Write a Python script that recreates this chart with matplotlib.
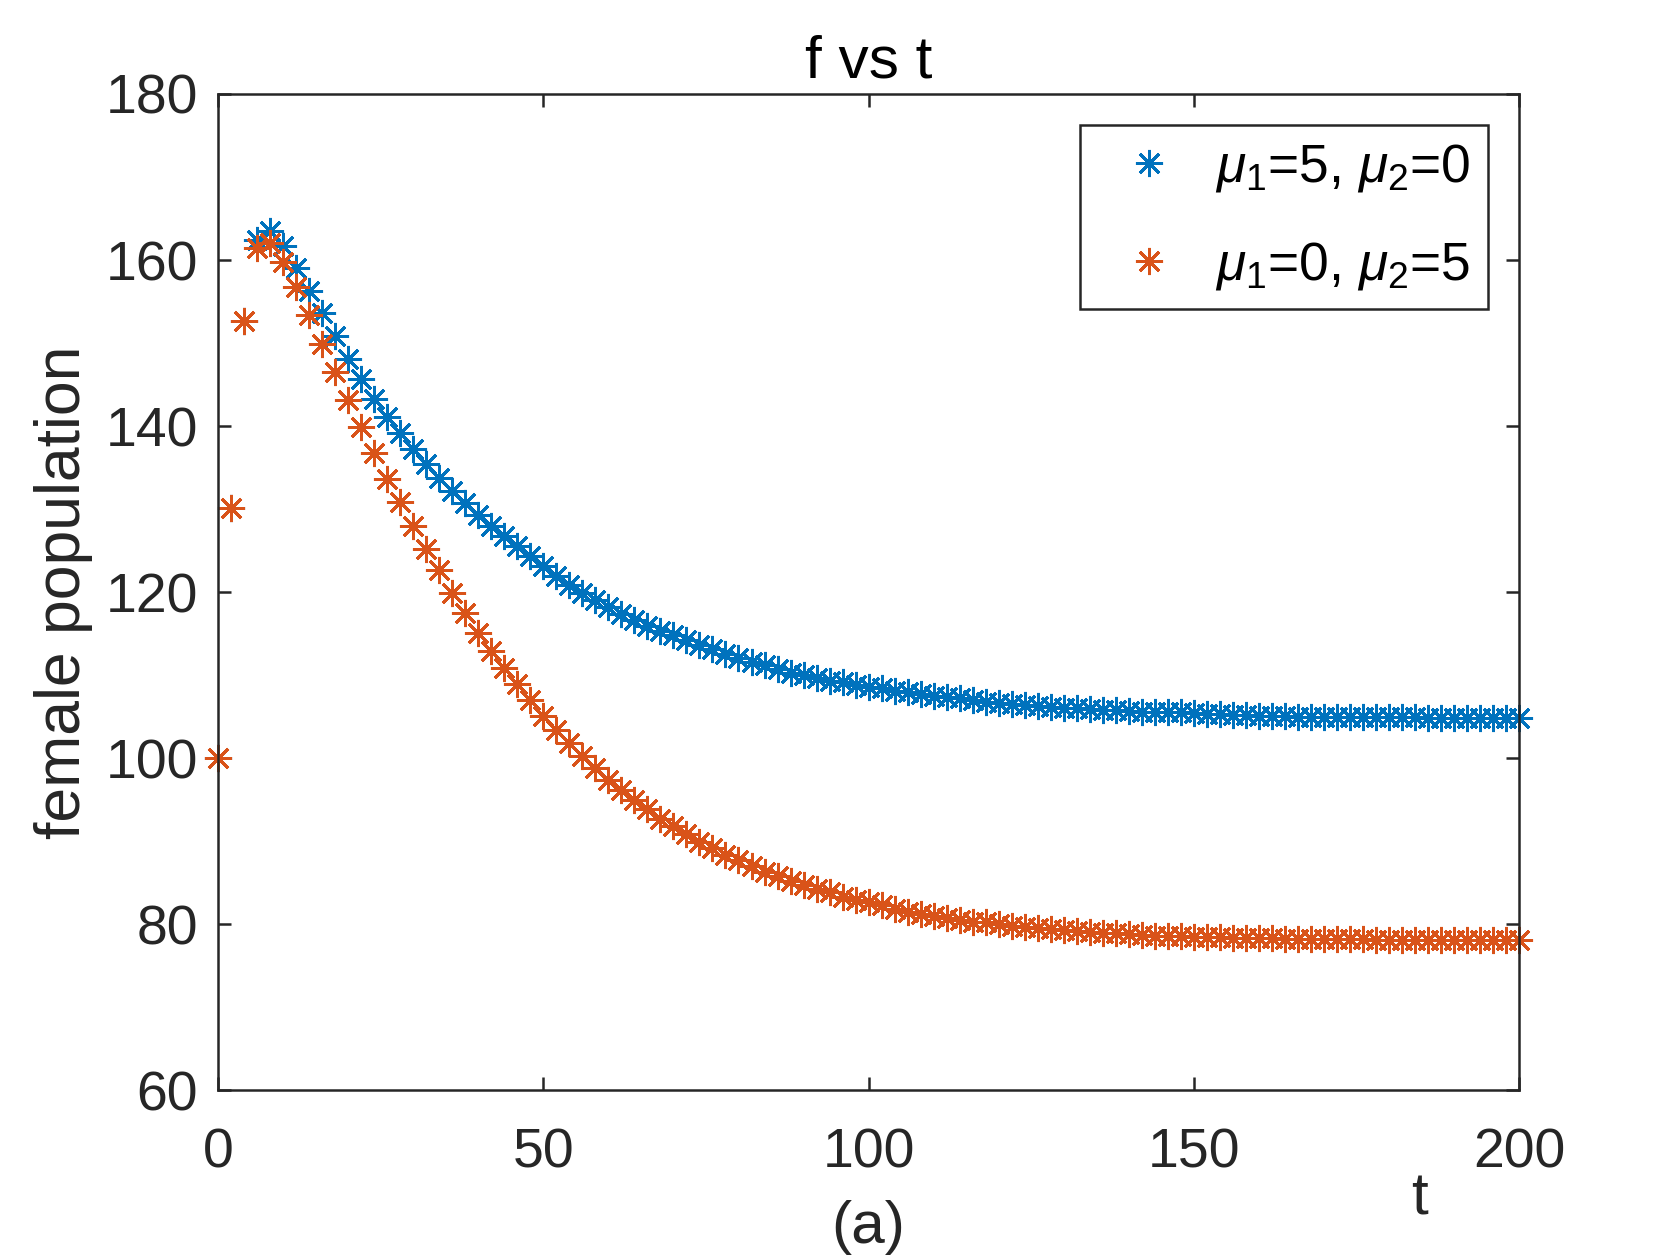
import numpy as np
import matplotlib
matplotlib.use("Agg")
import matplotlib.pyplot as plt

plt.rcParams['font.family'] = ['Liberation Sans', 'DejaVu Sans']
plt.rcParams['mathtext.fontset'] = 'custom'
plt.rcParams['mathtext.rm'] = 'Liberation Sans'
plt.rcParams['mathtext.it'] = 'Liberation Sans:italic'

# time samples (every 2 units)
t = np.arange(0, 201, 2)

# mu1=5, mu2=0
f_mu1 = [100.0, 130.1, 152.6, 162.4, 163.5, 161.7, 159.0, 156.3, 153.6, 150.8,
         148.1, 145.7, 143.3, 141.1, 139.1, 137.2, 135.4, 133.7, 132.2, 130.7,
         129.3, 127.9, 126.7, 125.5, 124.3, 123.1, 121.9, 120.8, 119.9, 119.0,
         118.2, 117.3, 116.6, 115.9, 115.3, 114.8, 114.2, 113.6, 113.1, 112.5,
         112.1, 111.6, 111.2, 110.7, 110.3, 110.0, 109.6, 109.3, 109.1, 108.8,
         108.6, 108.4, 108.1, 107.9, 107.7, 107.5, 107.3, 107.2, 107.0, 106.8,
         106.6, 106.5, 106.4, 106.3, 106.1, 106.0, 106.0, 105.9, 105.8, 105.8,
         105.7, 105.6, 105.6, 105.5, 105.5, 105.4, 105.3, 105.3, 105.2, 105.2,
         105.1, 105.1, 105.1, 105.0, 105.0, 105.0, 105.0, 104.9, 104.9, 104.9,
         104.9, 104.9, 104.9, 104.8, 104.8, 104.8, 104.8, 104.8, 104.8, 104.8,
         104.8]

# mu1=0, mu2=5
f_mu2 = [100.0, 130.1, 152.6, 161.4, 162.0, 159.8, 156.7, 153.4, 149.9, 146.5,
         143.1, 139.9, 136.8, 133.6, 130.8, 127.9, 125.2, 122.6, 119.9, 117.5,
         115.1, 112.9, 110.9, 108.9, 107.0, 105.1, 103.4, 101.8, 100.2, 98.8,
         97.4, 96.1, 94.9, 93.8, 92.7, 91.8, 90.8, 89.9, 89.1, 88.3,
         87.7, 87.0, 86.3, 85.8, 85.2, 84.7, 84.2, 83.8, 83.3, 82.9,
         82.6, 82.3, 81.8, 81.5, 81.2, 81.0, 80.7, 80.5, 80.3, 80.2,
         80.0, 79.8, 79.7, 79.55, 79.4, 79.3, 79.2, 79.05, 78.9, 78.9,
         78.8, 78.7, 78.6, 78.6, 78.5, 78.45, 78.4, 78.4, 78.35, 78.3,
         78.3, 78.3, 78.25, 78.2, 78.2, 78.2, 78.2, 78.15, 78.15, 78.1,
         78.1, 78.1, 78.1, 78.1, 78.1, 78.1, 78.1, 78.1, 78.1, 78.1,
         78.1]

labels = [r'$\mu_1$=5, $\mu_2$=0', r'$\mu_1$=0, $\mu_2$=5']
colors = ['#0072BD', '#D95319']

fig = plt.figure(figsize=(5.6, 4.2), dpi=300)
ax = fig.add_axes([0.1299, 0.1349, 0.7742, 0.7905])

star = (8, 2, 0)
ax.plot(t, f_mu1, linestyle='none', marker=star, markersize=6.5,
        markeredgewidth=0.7, color=colors[0], label=labels[0], clip_on=False)
ax.plot(t, f_mu2, linestyle='none', marker=star, markersize=6.5,
        markeredgewidth=0.7, color=colors[1], label=labels[1], clip_on=False)

ax.set_xlim(0, 200)
ax.set_ylim(60, 180)
ax.set_xticks([0, 50, 100, 150, 200])
ax.set_yticks([60, 80, 100, 120, 140, 160, 180])

axcol = '#262626'
for sp in ax.spines.values():
    sp.set_color(axcol)
    sp.set_linewidth(0.6)
ax.tick_params(axis='both', which='both', direction='in', top=True, right=True,
               length=3.2, width=0.6, color=axcol, labelcolor=axcol, labelsize=13.3)
ax.tick_params(axis='x', pad=9)
ax.tick_params(axis='y', pad=4.8)

ax.set_title('f vs t', fontsize=14.5, pad=4)
ax.set_ylabel('female population', fontsize=15, color=axcol)
ax.yaxis.set_label_coords(-0.096, 0.5)
ax.set_xlabel('(a)', fontsize=14.5, color=axcol, labelpad=5)
fig.text(1420 / 1680, 1 - 1199 / 1260, 't', fontsize=14.5, color=axcol,
         ha='center', va='center')

leg = ax.legend(loc='upper right', bbox_to_anchor=(0.976, 0.969), borderaxespad=0,
                fontsize=12.8, fancybox=False, framealpha=1, edgecolor=axcol,
                handlelength=1.95, handletextpad=0.25, borderpad=0.33, labelspacing=0.85)
leg.get_frame().set_linewidth(0.6)

fig.savefig('out.png', dpi=300)
